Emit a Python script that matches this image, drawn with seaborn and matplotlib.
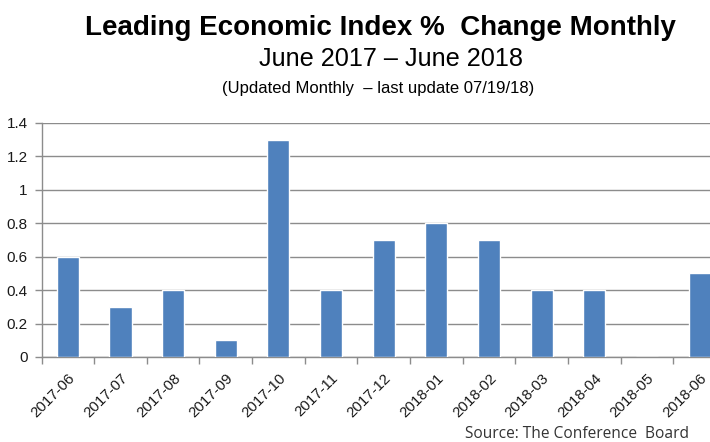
import matplotlib
matplotlib.use("Agg")
import matplotlib.pyplot as plt
import matplotlib.transforms as mtransforms
import seaborn as sns
import pandas as pd
import numpy as np

months = ["2017-06", "2017-07", "2017-08", "2017-09", "2017-10", "2017-11", "2017-12",
          "2018-01", "2018-02", "2018-03", "2018-04", "2018-05", "2018-06"]
values = [0.6, 0.3, 0.4, 0.1, 1.3, 0.4, 0.7, 0.8, 0.7, 0.4, 0.4, 0.0, 0.5]
yticks = [0, 0.2, 0.4, 0.6, 0.8, 1, 1.2, 1.4]
ytick_labels = ["0", "0.2", "0.4", "0.6", "0.8", "1", "1.2", "1.4"]

title = "Leading Economic Index %  Change Monthly"
subtitle = "June 2017 \u2013 June 2018"
note = "(Updated Monthly  \u2013 last update 07/19/18)"
source = "Source: The Conference  Board"

sns.set_theme(style="white")
plt.rcParams["font.family"] = ["Liberation Sans", "DejaVu Sans"]

df = pd.DataFrame({"month": months, "value": values})

fig = plt.figure(figsize=(7.10, 4.42), dpi=100)
fig.patch.set_facecolor("white")
left_px, right_px, bottom_px, top_px = 41.5, 726, 357, 123
W, H = 710, 442
ax = fig.add_axes([left_px / W, (H - bottom_px) / H, (right_px - left_px) / W, (bottom_px - top_px) / H])

sns.barplot(data=df, x="month", y="value", color="#4F81BD", width=0.42,
            saturation=1, ax=ax, zorder=3)

ax.set_ylim(0, 1.4)
ax.set_xlim(-0.5, len(months) - 0.5)
ax.set_yticks(yticks)
ax.set_yticklabels(ytick_labels, fontsize=11, color="#1a1a1a")
ax.yaxis.grid(True, color="#8c8c8c", linewidth=1.0, zorder=0)
ax.set_axisbelow(True)
ax.set_xlabel("")
ax.set_ylabel("")

# x ticks between categories, labels at centers
ax.set_xticks(np.arange(len(months)))
ax.set_xticklabels(months, rotation=45, ha="right", rotation_mode="anchor",
                   fontsize=10.8, color="#1a1a1a")
offset = mtransforms.ScaledTranslation(-4 / 100, 0, fig.dpi_scale_trans)
for lbl in ax.get_xticklabels():
    lbl.set_transform(lbl.get_transform() + offset)
ax.set_xticks(np.arange(len(months)) - 0.5, minor=True)
ax.tick_params(axis="x", which="major", length=0, pad=10)
ax.tick_params(axis="x", which="minor", length=5, width=1, color="#8c8c8c", direction="out", bottom=True)
ax.tick_params(axis="y", length=5, width=1, color="#8c8c8c", direction="out", left=True, pad=5)

for s in ["top", "right"]:
    ax.spines[s].set_visible(False)
for s in ["left", "bottom"]:
    ax.spines[s].set_color("#8c8c8c")
    ax.spines[s].set_linewidth(1.0)

fig.text(380 / W, 1 - 28 / H, title, ha="center", va="center", fontsize=20,
         fontweight="bold", color="black")
fig.text(391 / W, 1 - 59 / H, subtitle, ha="center", va="center", fontsize=18.2, color="black")
fig.text(378 / W, 1 - 88 / H, note, ha="center", va="center", fontsize=12, color="black")
fig.text(465 / W, 1 - 438 / H, source, ha="left", va="baseline", fontsize=11.2, color="#333333",
         family=["Open Sans", "DejaVu Sans"])

fig.savefig("out.png", dpi=100)
